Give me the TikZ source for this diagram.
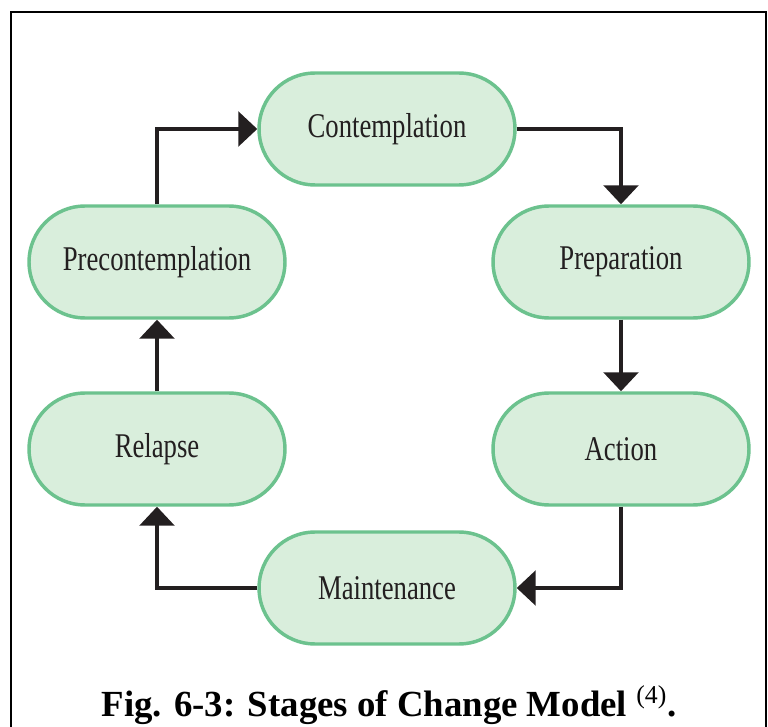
\documentclass[tikz,border=0pt]{standalone}
\usepackage{fontspec}
\setmainfont{Liberation Serif}
\newfontfamily\condfont[FakeStretch=0.77]{Liberation Serif}
\usetikzlibrary{arrows.meta}
\definecolor{boxfill}{HTML}{D9EEDC}
\definecolor{boxline}{HTML}{6CC28E}
\definecolor{ink}{HTML}{231F20}
\tikzset{
  stage/.style={draw=boxline, fill=boxfill, line width=2.6pt,
    minimum width=192pt, minimum height=84pt, rounded corners=42pt,
    inner sep=0pt, text=ink, font=\condfont\fontsize{26}{30}\selectfont},
  flow/.style={draw=ink, line width=2.8pt,
    -{Triangle[length=14.25pt,width=26pt]}}
}
\begin{document}
\begin{tikzpicture}[x=0.75pt,y=-0.75pt]
\useasboundingbox (0,0) rectangle (768,727);
\draw[line width=1.8pt] (11,730) -- (11,12) -- (766,12) -- (766,730);
\node[stage] (cont) at (387,129) {Contemplation};
\node[stage] (prep) at (621,262) {Preparation};
\node[stage] (act) at (621,449) {Action};
\node[stage] (main) at (387,588) {Maintenance};
\node[stage] (rel) at (157,449) {Relapse};
\node[stage] (pre) at (157,262) {Precontemplation};
\draw[flow] (pre.north) |- (cont.west);
\draw[flow] (cont.east) -| (prep.north);
\draw[flow] (prep.south) -- (act.north);
\draw[flow] (act.south) |- (main.east);
\draw[flow] (main.west) -| (rel.south);
\draw[flow] (rel.north) -- (pre.south);
\node[font=\bfseries\fontsize{27.6}{30}\selectfont, anchor=base, inner sep=0pt] (cap) at (389,716)
  {Fig. 6-3: Stages of Change Model \textsuperscript{\mdseries(4)}.};
\end{tikzpicture}
\end{document}
